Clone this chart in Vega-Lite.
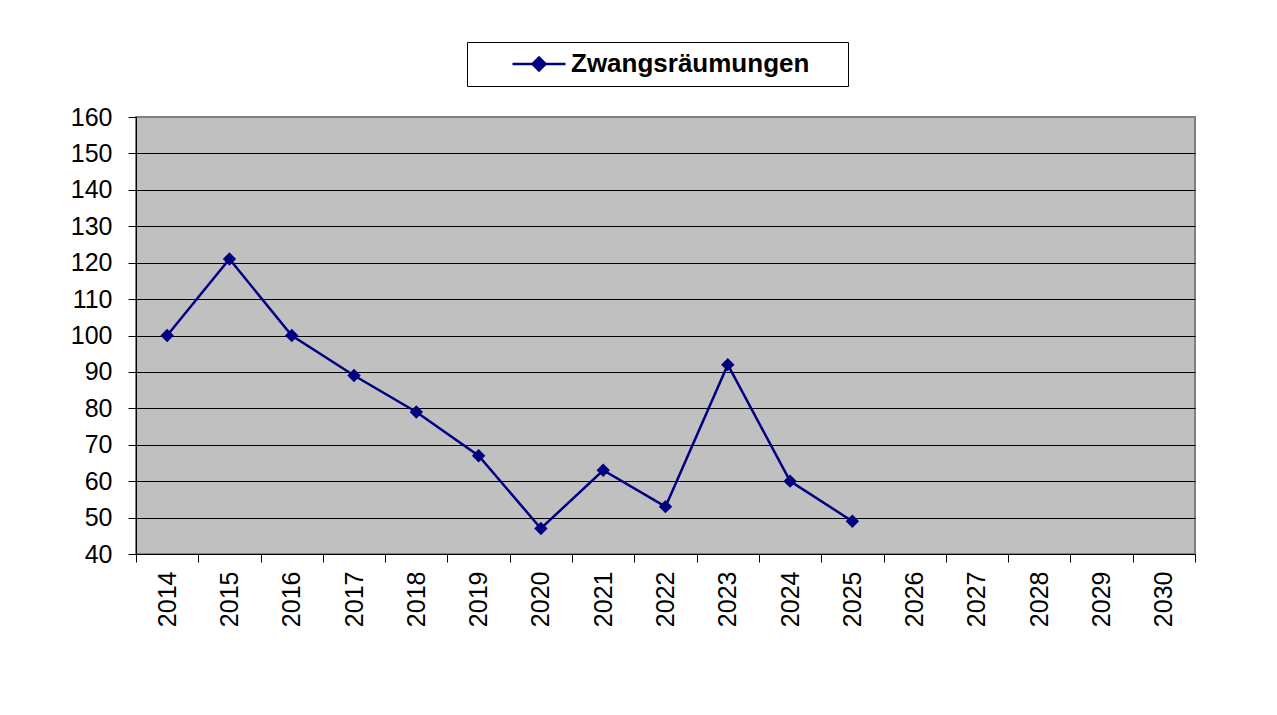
{
  "$schema": "https://vega.github.io/schema/vega-lite/v6.json",
  "width": 1059,
  "height": 437,
  "autosize": {"type": "none"},
  "padding": {"left": 136, "top": 117, "right": 82, "bottom": 161},
  "background": "#ffffff",
  "config": {
    "font": "Liberation Sans",
    "view": {"fill": "#C0C0C0", "stroke": "#808080", "strokeWidth": 2}
  },
  "data": {
    "values": [
      {"year": "2014", "value": 100, "series": "Zwangsräumungen"},
      {"year": "2015", "value": 121, "series": "Zwangsräumungen"},
      {"year": "2016", "value": 100, "series": "Zwangsräumungen"},
      {"year": "2017", "value": 89, "series": "Zwangsräumungen"},
      {"year": "2018", "value": 79, "series": "Zwangsräumungen"},
      {"year": "2019", "value": 67, "series": "Zwangsräumungen"},
      {"year": "2020", "value": 47, "series": "Zwangsräumungen"},
      {"year": "2021", "value": 63, "series": "Zwangsräumungen"},
      {"year": "2022", "value": 53, "series": "Zwangsräumungen"},
      {"year": "2023", "value": 92, "series": "Zwangsräumungen"},
      {"year": "2024", "value": 60, "series": "Zwangsräumungen"},
      {"year": "2025", "value": 49, "series": "Zwangsräumungen"}
    ]
  },
  "encoding": {
    "x": {
      "field": "year",
      "type": "ordinal",
      "scale": {
        "type": "band",
        "domain": ["2014","2015","2016","2017","2018","2019","2020","2021","2022","2023","2024","2025","2026","2027","2028","2029","2030"],
        "paddingInner": 0,
        "paddingOuter": 0
      },
      "axis": {
        "title": null,
        "tickBand": "extent",
        "tickSize": 8,
        "tickColor": "#000000",
        "domainColor": "#000000",
        "domainWidth": 1,
        "labelAngle": -90,
        "labelAlign": "right",
        "labelBaseline": "middle",
        "labelPadding": 9,
        "labelFontSize": 25,
        "labelColor": "#000000",
        "grid": false
      }
    },
    "y": {
      "field": "value",
      "type": "quantitative",
      "scale": {"domain": [40, 160], "nice": false, "zero": false},
      "axis": {
        "title": null,
        "values": [40,50,60,70,80,90,100,110,120,130,140,150,160],
        "grid": true,
        "gridColor": {"condition": {"test": "datum.value === 160", "value": "#808080"}, "value": "#000000"},
        "gridWidth": 1,
        "tickSize": 8,
        "tickColor": "#000000",
        "domainColor": "#000000",
        "domainWidth": 1,
        "labelPadding": 16,
        "labelFontSize": 25,
        "labelColor": "#000000"
      }
    },
    "color": {
      "field": "series",
      "type": "nominal",
      "scale": {"domain": ["Zwangsräumungen"], "range": ["#000080"]},
      "legend": {
        "title": null,
        "orient": "none",
        "legendX": 331,
        "legendY": -75,
        "strokeColor": "#000000",
        "fillColor": "#ffffff",
        "padding": 9,
        "symbolType": "M-2.65,0L2.65,0M0,-0.65L0.65,0L0,0.65L-0.65,0ZM29.5,0",
        "symbolSize": 400,
        "symbolStrokeWidth": 2,
        "symbolOffset": 50,
        "labelOffset": 19,
        "labelFontSize": 26,
        "labelFontWeight": "bold",
        "labelColor": "#000000",
        "labelLimit": 400,
        "encode": {
          "symbols": {"update": {"fill": {"value": "#000080"}, "stroke": {"value": "#000080"}, "strokeWidth": {"value": 2.5}}}
        }
      }
    }
  },
  "layer": [
    {"mark": {"type": "line", "strokeWidth": 2.5}},
    {"mark": {"type": "point", "shape": "diamond", "filled": true, "size": 180, "opacity": 1}}
  ]
}
